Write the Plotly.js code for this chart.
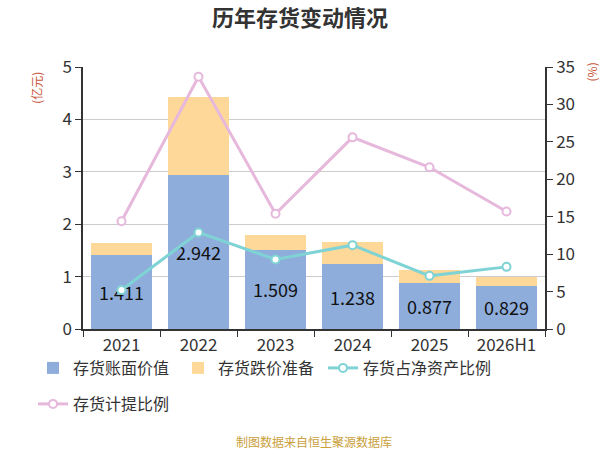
<!DOCTYPE html>
<html>
<head>
<meta charset="utf-8">
<script src="https://cdn.plot.ly/plotly-3.0.1.min.js"></script>
<style>
  html, body { margin: 0; padding: 0; background: #fff; }
  #chart { width: 600px; height: 450px; }
</style>
</head>
<body>
<div id="chart"></div>
<script>
const years = ["2021", "2022", "2023", "2024", "2025", "2026H1"];
const bookValue = [1.411, 2.942, 1.509, 1.238, 0.877, 0.829];
const reserve = [0.238, 1.495, 0.276, 0.425, 0.241, 0.155];
const netAssetRatio = [5.2, 12.9, 9.3, 11.2, 7.1, 8.3];
const provisionRatio = [14.4, 33.7, 15.4, 25.6, 21.6, 15.7];

const font = "'Noto Sans CJK SC', 'Noto Sans', sans-serif";

const traces = [
  {
    x: years, y: bookValue, name: "存货账面价值", type: "bar",
    marker: { color: "#8eaddb" },
    text: bookValue.map(v => v.toFixed(3)),
    textposition: "inside", insidetextanchor: "middle",
    textfont: { color: "#111", size: 18, family: font },
    hoverinfo: "x+y"
  },
  {
    x: years, y: reserve, name: "存货跌价准备", type: "bar", legend: "legend2",
    marker: { color: "#fed898" },
    hoverinfo: "x+y"
  },
  {
    x: years, y: netAssetRatio, name: "存货占净资产比例", type: "scatter",
    mode: "lines+markers", yaxis: "y2", legend: "legend3",
    line: { color: "#7fd3d5", width: 3 },
    marker: { color: "#fff", size: 8, line: { color: "#7fd3d5", width: 2 } }
  },
  {
    x: years, y: provisionRatio, name: "存货计提比例", type: "scatter",
    mode: "lines+markers", yaxis: "y2", legend: "legend4",
    line: { color: "#e6b8dc", width: 3 },
    marker: { color: "#fff", size: 8, line: { color: "#e6b8dc", width: 2 } }
  }
];

// one legend per entry so each can sit where the reference puts it
function legendAt(x, y) {
  return {
    orientation: "h",
    xref: "container", yref: "container",
    x: x / 600, y: 1 - y / 450, xanchor: "left", yanchor: "top",
    font: { size: 16, color: "#333" },
    itemwidth: 30
  };
}

const layout = {
  width: 600, height: 450,
  margin: { l: 83, r: 55, t: 67, b: 121 },
  paper_bgcolor: "#fff", plot_bgcolor: "#fff",
  font: { family: font, color: "#333", size: 17 },
  barmode: "stack", bargap: 0.2,
  showlegend: true,
  title: {
    text: "<b>历年存货变动情况</b>",
    font: { size: 22, color: "#333", family: font },
    x: 0.5, xanchor: "center", y: 0.96, yanchor: "middle"
  },
  xaxis: {
    type: "category",
    showline: true, linecolor: "#333", linewidth: 1.5,
    ticks: "outside", tickson: "boundaries", ticklen: 6, tickcolor: "#333",
    tickfont: { size: 17, color: "#333" },
    showgrid: false, fixedrange: true
  },
  yaxis: {
    range: [0, 5], dtick: 1,
    showline: true, linecolor: "#333", linewidth: 1.5,
    ticks: "outside", ticklen: 6, tickcolor: "#333",
    gridcolor: "#cccccc", gridwidth: 1,
    tickfont: { size: 17, color: "#333" },
    zeroline: false, fixedrange: true
  },
  yaxis2: {
    range: [0, 35], dtick: 5, overlaying: "y", side: "right",
    showline: true, linecolor: "#333", linewidth: 1.5,
    ticks: "outside", ticklen: 6, tickcolor: "#333",
    showgrid: false, zeroline: false,
    tickfont: { size: 17, color: "#333" },
    fixedrange: true
  },
  legend: legendAt(33, 351),
  legend2: legendAt(178, 351),
  legend3: legendAt(323, 351),
  legend4: legendAt(33, 387),
  annotations: [
    {
      text: "(亿元)", xref: "paper", yref: "paper",
      x: -0.1, y: 0.92, xanchor: "center", yanchor: "middle",
      textangle: -90, showarrow: false,
      font: { size: 12, color: "#c8553a" }
    },
    {
      text: "(%)", xref: "paper", yref: "paper",
      x: 1.1, y: 0.98, xanchor: "center", yanchor: "middle",
      textangle: -90, showarrow: false,
      font: { size: 12, color: "#c8553a" }
    },
    {
      text: "制图数据来自恒生聚源数据库", xref: "paper", yref: "paper",
      x: 0.5, y: -0.4275, xanchor: "center", yanchor: "middle",
      showarrow: false,
      font: { size: 12, color: "#c9a03c" }
    }
  ]
};

Plotly.newPlot("chart", traces, layout, { displayModeBar: false, responsive: false });
</script>
</body>
</html>
